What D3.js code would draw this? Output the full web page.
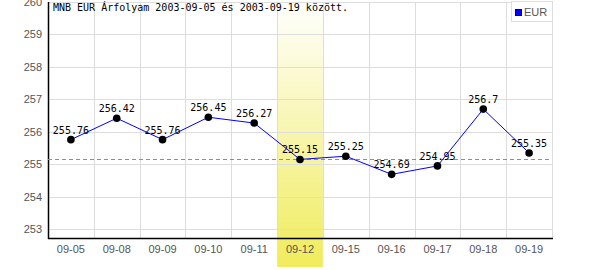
<!DOCTYPE html>
<html>
<head>
<meta charset="utf-8">
<script src="https://cdn.jsdelivr.net/npm/d3@7"></script>
<style>
  body { margin: 0; background: #fff; }
  svg { display: block; }
</style>
</head>
<body>
<div id="chart"></div>
<script>
// data
var dates = ["09-05", "09-08", "09-09", "09-10", "09-11", "09-12", "09-15", "09-16", "09-17", "09-18", "09-19"];
var rates = [255.76, 256.42, 255.76, 256.45, 256.27, 255.15, 255.25, 254.69, 254.95, 256.7, 255.35];
var yTicks = [253, 254, 255, 256, 257, 258, 259, 260];
var selected = "09-12";
var title = "MNB EUR Árfolyam 2003-09-05 és 2003-09-19 között.";
var seriesName = "EUR";

var width = 600, height = 270;
var margin = {top: 2, right: 48, bottom: 32, left: 48};

var svg = d3.select("#chart").append("svg")
  .attr("width", width)
  .attr("height", height);

var x = d3.scaleBand()
  .domain(dates)
  .range([margin.left, width - margin.right])
  .padding(0);

var y = d3.scaleLinear()
  .domain([252.72, 260])
  .range([height - margin.bottom + 0.3, margin.top]);

// gradient for highlighted day
var grad = svg.append("defs").append("linearGradient")
  .attr("id", "hl").attr("x1", 0).attr("y1", 0).attr("x2", 0).attr("y2", 1);
grad.append("stop").attr("offset", "0%").attr("stop-color", "#ffffff");
grad.append("stop").attr("offset", "100%").attr("stop-color", "#f0ec5c");

svg.append("rect")
  .attr("x", x(selected))
  .attr("y", 0)
  .attr("width", x.bandwidth())
  .attr("height", 267)
  .attr("fill", "url(#hl)");

// grid
svg.append("g").selectAll("line")
  .data(yTicks)
  .enter().append("line")
  .attr("x1", margin.left).attr("x2", width - margin.right)
  .attr("y1", function(d) { return Math.round(y(d)) + 0.5; })
  .attr("y2", function(d) { return Math.round(y(d)) + 0.5; })
  .attr("stroke", "#dddddd");

svg.append("g").selectAll("line")
  .data(dates.slice(1).concat(["end"]))
  .enter().append("line")
  .attr("x1", function(d, i) { return Math.round(i < dates.length - 1 ? x(d) : width - margin.right) + 0.5; })
  .attr("x2", function(d, i) { return Math.round(i < dates.length - 1 ? x(d) : width - margin.right) + 0.5; })
  .attr("y1", y(260)).attr("y2", y.range()[0])
  .attr("stroke", "#dddddd");

// axes
var yAxis = svg.append("g")
  .attr("transform", "translate(" + margin.left + ",0)")
  .call(d3.axisLeft(y).tickValues(yTicks).tickSize(0).tickPadding(6));
yAxis.select(".domain").remove();
yAxis.selectAll("text")
  .attr("fill", "#555")
  .style("font", "11px 'Liberation Sans', Arial, sans-serif");

var xAxis = svg.append("g")
  .attr("transform", "translate(0," + Math.round(y.range()[0]) + ")")
  .call(d3.axisBottom(x).tickSize(0).tickPadding(7));
xAxis.select(".domain").remove();
xAxis.selectAll("text")
  .attr("fill", "#555")
  .style("font", "11px 'Liberation Sans', Arial, sans-serif");

svg.append("line")
  .attr("x1", margin.left + 0.5).attr("x2", margin.left + 0.5)
  .attr("y1", y(260)).attr("y2", Math.round(y.range()[0]) + 1)
  .attr("stroke", "#000").attr("stroke-width", 1.5);
svg.append("line")
  .attr("x1", margin.left).attr("x2", width - margin.right + 1)
  .attr("y1", Math.round(y.range()[0]) + 0.5).attr("y2", Math.round(y.range()[0]) + 0.5)
  .attr("stroke", "#000").attr("stroke-width", 1.5);

// reference line at the selected day's value
var selVal = rates[dates.indexOf(selected)];
svg.append("line")
  .attr("x1", margin.left).attr("x2", width - margin.right)
  .attr("y1", Math.round(y(selVal)) + 0.5).attr("y2", Math.round(y(selVal)) + 0.5)
  .attr("stroke", "#8080ff")
  .attr("stroke-dasharray", "4,3");

// series
var cx = function(d, i) { return x(dates[i]) + x.bandwidth() / 2; };
var line = d3.line()
  .x(cx)
  .y(function(d) { return y(d); });

svg.append("path")
  .datum(rates)
  .attr("d", line)
  .attr("fill", "none")
  .attr("stroke", "#0000ff")
  .attr("stroke-width", 1);

svg.append("g").selectAll("circle")
  .data(rates)
  .enter().append("circle")
  .attr("cx", cx)
  .attr("cy", function(d) { return y(d); })
  .attr("r", 3.8)
  .attr("fill", "#000");

svg.append("g").selectAll("text")
  .data(rates)
  .enter().append("text")
  .attr("x", cx)
  .attr("y", function(d) { return y(d) - 6; })
  .attr("text-anchor", "middle")
  .style("font", "10px 'DejaVu Sans Mono', monospace")
  .attr("fill", "#000")
  .text(function(d) { return d; });

// title
svg.append("text")
  .attr("x", 53).attr("y", 11)
  .style("font", "10px 'DejaVu Sans Mono', monospace")
  .attr("fill", "#000")
  .text(title);

// legend
var lg = svg.append("g").attr("transform", "translate(511,1)");
lg.append("rect")
  .attr("x", 0.5).attr("y", 0.5).attr("width", 41).attr("height", 20)
  .attr("fill", "#fff").attr("stroke", "#dddddd");
lg.append("rect")
  .attr("x", 4.5).attr("y", 8.5).attr("width", 6).attr("height", 6)
  .attr("fill", "#0000ff").attr("stroke", "#000066");
lg.append("text")
  .attr("x", 13).attr("y", 15)
  .attr("fill", "#555")
  .style("font", "11px 'Liberation Sans', Arial, sans-serif")
  .text(seriesName);
</script>
</body>
</html>
